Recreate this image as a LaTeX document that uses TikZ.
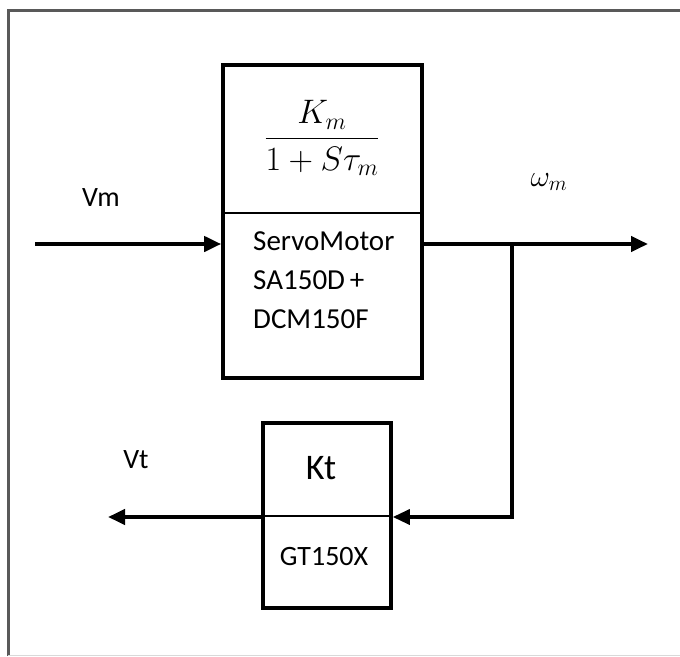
\RequirePackage{fix-cm}
\documentclass[tikz,border=0pt]{standalone}
\usepackage{amsmath}
\usepackage{fontspec}
\setmainfont{Carlito}
\usetikzlibrary{arrows.meta}
\tikzset{
  blk/.style={draw=black, line width=3.6pt, fill=none, inner sep=0pt},
  sep/.style={draw=black, line width=1.6pt},
  arr/.style={draw=black, line width=4pt, -{Triangle[length=17pt,width=15pt]}},
  wire/.style={draw=black, line width=3.4pt},
  lbl/.style={font=\fontsize{28}{32}\selectfont, inner sep=0pt},
  boxtxt/.style={font=\fontsize{29}{39}\selectfont, inner sep=0pt, align=left},
  frame/.style={draw=black!65, line width=3pt},
}
\begin{document}
\begin{tikzpicture}[x=1pt,y=-1pt]
\useasboundingbox (0,0) rectangle (680,656);
% frame
\draw[frame] (8,656) -- (8,10) -- (680,10);
\draw[draw=black!15, line width=1pt] (8,655.5) -- (680,655.5);
% motor block
\node[blk, minimum width=199pt, minimum height=313pt] (motor) at (322.5,221.5) {};
\coordinate (mdivl) at (223,213);
\coordinate (mdivr) at (422,213);
\draw[sep] (mdivl) -- (mdivr);
\node[inner sep=0pt] (tf) at (322,138) {\fontsize{34}{40}\selectfont$\dfrac{K_m}{1+S\tau_m}$};
\node[boxtxt, anchor=north west] (mtxt) at (253,231) {ServoMotor\\SA150D\,+\\DCM150F};
% sensor block
\node[blk, minimum width=128pt, minimum height=185pt] (sens) at (327,515.5) {};
\coordinate (sdivl) at (263,516);
\coordinate (sdivr) at (391,516);
\draw[sep] (sdivl) -- (sdivr);
\node[inner sep=0pt, font=\fontsize{36}{40}\selectfont] (kt) at (321,468) {Kt};
\node[inner sep=0pt, font=\fontsize{28}{32}\selectfont] (gt) at (324,557) {GT150X};
% signals
\coordinate (vin) at (35,244);
\coordinate (wout) at (648,244);
\coordinate (br) at (512,244);
\coordinate (vtout) at (108,517);
\draw[arr] (vin) -- (motor.west |- vin);
\draw[arr] (motor.east |- wout) -- (wout);
\draw[wire, -{Triangle[length=17pt,width=15pt]}] (br) |- (sens.east |- vtout);
\draw[arr] (sens.west |- vtout) -- (vtout);
% labels
\node[lbl] (vm) at (101,198) {Vm};
\node[inner sep=0pt, font=\fontsize{30}{34}\selectfont] (wm) at (549,182) {$\omega_m$};
\node[lbl] (vt) at (136,460) {Vt};
\end{tikzpicture}
\end{document}
